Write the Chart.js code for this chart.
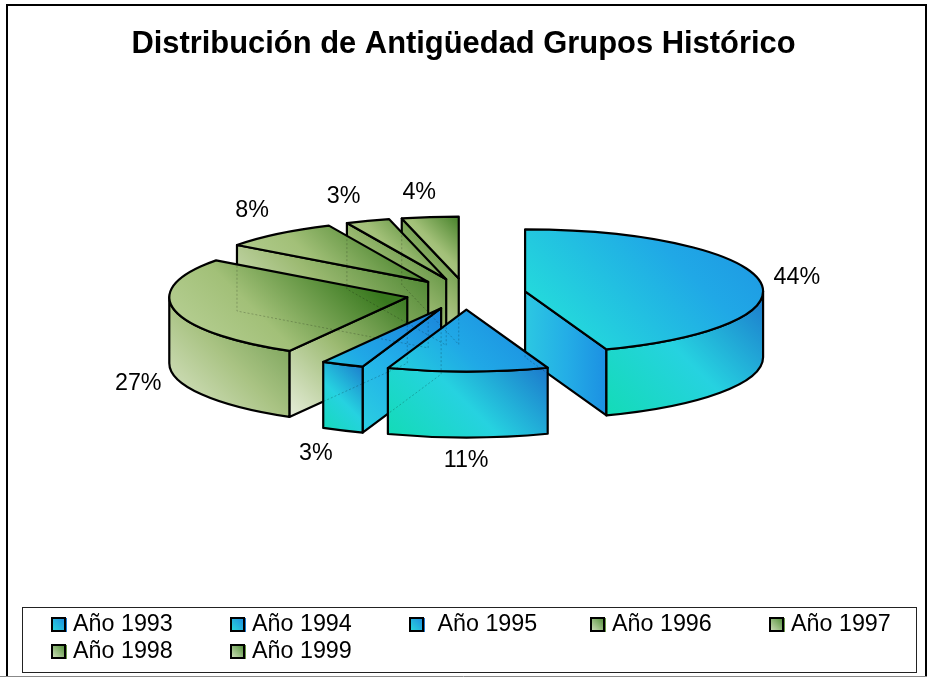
<!DOCTYPE html>
<html><head><meta charset="utf-8">
<style>html,body{margin:0;padding:0;background:#fff}#w{width:927px;height:677px;position:relative}</style>
<script src="https://cdn.jsdelivr.net/npm/chart.js@4"></script>
</head><body><div id="w"><canvas id="c" width="927" height="677"></canvas></div>
<script>
const categories = ['Año 1993','Año 1994',' Año 1995','Año 1996','Año 1997','Año 1998','Año 1999'];
const values = [44.45,10.9,2.9,26.9,8,3,3.85];
const labels = ['44%','11%','3%','27%','8%','3%','4%'];
const titleText = 'Distribución de Antigüedad Grupos Histórico';
const baseColors = ['#1f9fe4','#1f9fe4','#1f9fe4','#8fb366','#8fb366','#8fb366','#8fb366'];

const FONT = '"Liberation Sans", Arial, sans-serif';
const CX = 466, CY = 294, K = 0.26, DEPTH = 66, EXPLODE = 60, RADIUS = 238;
const blue = {
  top:['#24d8dc','#20a8e6','#1c8ae0'],
  wall:['#12dcb4','#26d2e0','#1c78cc'],
  side:['#2bd0e0','#22aeea','#1a84da'],
  flank:['#2cc8e2','#24aee6','#1c90e2']
};
const green = {
  top:['#c0d6a0','#a2c078','#38781e'],
  wall:['#e0e9d0','#a9c383','#669548'],
  side:['#e6edd9','#9cba72','#3a7a22'],
  flank:['#e6edd9','#9cba72','#3a7a22']
};
const palette = [blue,blue,blue,green,green,green,green];
const labelNudge = [[-2,2],[-2,-4],[-10,-2],[3,2],[-1,-2],[-11,1],[-6,2]];

function grad(ctx,x0,y0,x1,y1,c){
  const g=ctx.createLinearGradient(x0,y0,x1,y1);
  g.addColorStop(0,c[0]);g.addColorStop(.5,c[1]);g.addColorStop(1,c[2]);return g;
}
function diag(x0,y0,x1,y1){ // lower-left corner to the 45 degree projection of the upper-right one
  const s=((x1-x0)+(y1-y0))/2;
  return [x0,y1,x0+s,y1-s];
}
function flatGrad(ctx,el,sx0,sy0,sx1,sy1,c){
  // screen-space gradient expressed in the element's untransformed space
  const dx=sx1-sx0,dy=sy1-sy0,g=(dx*dx+dy*dy)/(dx*dx+dy*dy*K*K);
  const fx0=sx0-CX+el.x,fy0=(sy0-CY)/K+el.y;
  return grad(ctx,fx0,fy0,fx0+g*dx,fy0+g*dy*K,c);
}
function geom(el){
  const mid=(el.startAngle+el.endAngle)/2;
  const ax=CX+Math.cos(mid)*EXPLODE, ay=CY+Math.sin(mid)*EXPLODE*K;
  const R=el.outerRadius;
  const pt=a=>[ax+Math.cos(a)*R, ay+Math.sin(a)*R*K];
  return {mid,ax,ay,R,pt};
}
function topPath(ctx,g,el){
  ctx.beginPath();ctx.moveTo(g.ax,g.ay);
  ctx.save();ctx.translate(g.ax,g.ay);ctx.scale(1,K);
  ctx.arc(0,0,g.R,el.startAngle,el.endAngle);
  ctx.restore();ctx.closePath();
}
function wall(ctx,g,a,fill){
  const p=g.pt(a);
  ctx.beginPath();ctx.moveTo(g.ax,g.ay);ctx.lineTo(p[0],p[1]);
  ctx.lineTo(p[0],p[1]+DEPTH);ctx.lineTo(g.ax,g.ay+DEPTH);ctx.closePath();
  const x0=Math.min(g.ax,p[0]),x1=Math.max(g.ax,p[0]),y0=Math.min(g.ay,p[1]),y1=Math.max(g.ay,p[1])+DEPTH;
  ctx.fillStyle=fill(x0,y0,x1,y1);ctx.fill();ctx.stroke();
}
function rim(ctx,g,el,c){
  const s=Math.max(el.startAngle,0),e=Math.min(el.endAngle,Math.PI);
  if(e<=s)return;
  ctx.beginPath();
  ctx.save();ctx.translate(g.ax,g.ay);ctx.scale(1,K);ctx.arc(0,0,g.R,s,e);ctx.restore();
  ctx.save();ctx.translate(g.ax,g.ay+DEPTH);ctx.scale(1,K);ctx.arc(0,0,g.R,e,s,true);ctx.restore();
  ctx.closePath();
  const ps=g.pt(s),pe=g.pt(e);
  const x0=Math.min(ps[0],pe[0]),x1=Math.max(ps[0],pe[0]);
  const y0=Math.min(ps[1],pe[1]),y1=Math.max(ps[1],pe[1])+DEPTH+8;
  ctx.fillStyle=grad(ctx,...diag(x0,y0,x1,y1),c);ctx.fill();ctx.stroke();
}
// clockwise-from-north angle of a library arc angle
const north=a=>a+Math.PI/2;
const startShows=el=>Math.sin(north(el.startAngle))<-1e-6;
const endShows=el=>Math.sin(north(el.endAngle))>1e-6;

const pie3d={
  id:'pie3d',
  beforeDatasetsDraw(chart){
    const ctx=chart.ctx, meta=chart.getDatasetMeta(0);
    const order=meta.data.map((el,i)=>i).sort((a,b)=>{
      const ma=(meta.data[a].startAngle+meta.data[a].endAngle)/2, mb=(meta.data[b].startAngle+meta.data[b].endAngle)/2;
      return Math.sin(ma)-Math.sin(mb);
    });
    ctx.save();
    ctx.lineJoin='round';
    order.forEach(i=>{
      const el=meta.data[i], g=geom(el), c=palette[i];
      ctx.lineWidth=2.2;ctx.strokeStyle='#000';
      const ps=g.pt(el.startAngle), pe=g.pt(el.endAngle);
      if(startShows(el)) wall(ctx,g,el.startAngle,(x0,y0,x1,y1)=>grad(ctx,...diag(x0,y0,x1,y1),c.side));
      if(endShows(el)) wall(ctx,g,el.endAngle,(x0,y0,x1,y1)=>grad(ctx,x0,y0,x1,y0,c.flank));
      rim(ctx,g,el,c.wall);
      // top face, filled by the library's arc element
      const x0=Math.min(g.ax,ps[0],pe[0]), x1=Math.max(g.ax,ps[0],pe[0],g.ax+(el.startAngle<0&&el.endAngle>0?g.R:0));
      const y0=Math.min(g.ay,ps[1],pe[1]), y1=Math.max(g.ay,ps[1],pe[1]);
      const proxy=Object.create(el);
      proxy.options=Object.create(el.options);
      const d=diag(x0,y0,x1,y1);
      Object.defineProperty(proxy.options,'backgroundColor',{value:flatGrad(ctx,el,d[0],d[1],d[2],d[3],c.top)});
      ctx.save();
      ctx.translate(g.ax,g.ay);ctx.scale(1,K);ctx.translate(-el.x,-el.y);
      el.draw.call(proxy,ctx);
      ctx.restore();
      topPath(ctx,g,el);ctx.stroke();
    });
    // faint see-through edges of the translucent solids
    ctx.setLineDash([2,2]);ctx.lineWidth=1;ctx.strokeStyle='rgba(0,0,0,.22)';
    meta.data.forEach(el=>{
      const g=geom(el);
      const a=startShows(el)?el.startAngle:(endShows(el)?el.endAngle:null);
      if(a===null)return;
      const p=g.pt(a);
      ctx.beginPath();ctx.moveTo(g.ax,g.ay);ctx.lineTo(g.ax,g.ay+DEPTH);ctx.lineTo(p[0],p[1]+DEPTH);ctx.lineTo(p[0],p[1]);ctx.stroke();
    });
    ctx.setLineDash([]);
    // percentage labels
    ctx.fillStyle='#000';ctx.font='23.3px '+FONT;ctx.textAlign='center';ctx.textBaseline='middle';
    meta.data.forEach((el,i)=>{
      const g=geom(el);
      const lx=g.ax+Math.cos(g.mid)*(g.R+40), ly=g.ay+Math.sin(g.mid)*(g.R*K+27)+(Math.sin(g.mid)>0.1?DEPTH:0);
      ctx.fillText(labels[i],lx+labelNudge[i][0],ly+labelNudge[i][1]);
    });
    ctx.restore();
    return false;
  },
  afterDraw(chart){
    const ctx=chart.ctx;
    ctx.save();
    // outer frame
    ctx.strokeStyle='#000';ctx.lineWidth=2;
    ctx.beginPath();ctx.moveTo(7,677);ctx.lineTo(7,5);ctx.lineTo(926,5);ctx.lineTo(926,677);ctx.stroke();
    ctx.strokeStyle='#888';ctx.lineWidth=1;ctx.beginPath();ctx.moveTo(0,676.5);ctx.lineTo(927,676.5);ctx.stroke();
    // legend
    ctx.fillStyle='#fff';ctx.strokeStyle='#222';ctx.lineWidth=1;
    ctx.fillRect(22.5,607.5,894,65);ctx.strokeRect(22.5,607.5,894,65);
    const cols=[51,230,409,590,769];
    ctx.font='23.3px '+FONT;ctx.textAlign='left';ctx.textBaseline='alphabetic';
    categories.forEach((t,i)=>{
      const x=cols[i%5], y=617+27*Math.floor(i/5);
      const c=palette[i];
      ctx.fillStyle=c.wall[2];ctx.fillRect(x+12,y+1,4,14);
      const gr=ctx.createLinearGradient(x,y+14,x+14,y);
      gr.addColorStop(0,c===blue?'#2cdcdc':'#d6e4c2');gr.addColorStop(1,c===blue?'#1c88e0':'#4a8a30');
      ctx.fillStyle=gr;ctx.fillRect(x+1,y+1,13,13);
      ctx.strokeStyle='#000';ctx.lineWidth=2;ctx.strokeRect(x+1,y+1,13,13);
      ctx.fillStyle='#000';
      ctx.fillText(t,x+22,y+14);
    });
    ctx.restore();
  }
};
new Chart(document.getElementById('c'),{
  type:'pie',
  data:{labels:categories,datasets:[{data:values,backgroundColor:baseColors,borderWidth:0}]},
  options:{
    responsive:false,animation:false,radius:RADIUS,
    events:[],
    plugins:{
      legend:{display:false},tooltip:{enabled:false},
      title:{display:true,text:titleText,color:'#000',font:{family:FONT,size:30.9,weight:'bold'},padding:{top:26,bottom:0}}
    }
  },
  plugins:[pie3d]
});
</script></body></html>
